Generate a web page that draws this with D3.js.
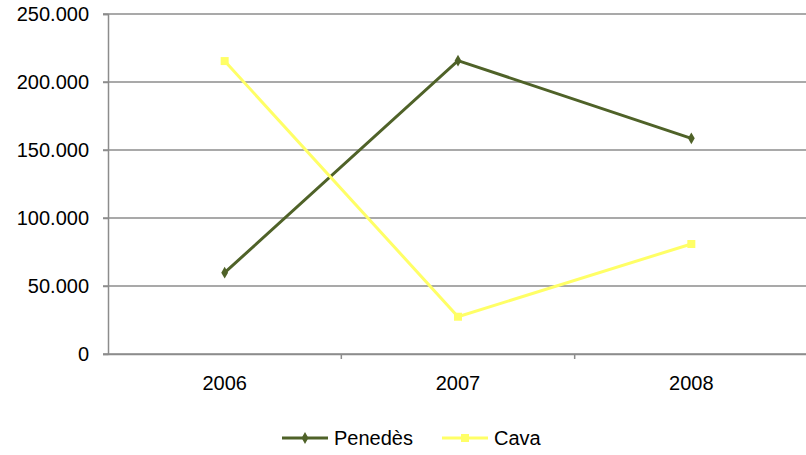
<!DOCTYPE html>
<html>
<head>
<meta charset="utf-8">
<script src="https://cdn.jsdelivr.net/npm/d3@7"></script>
<style>
  body { margin: 0; background: #fff; }
  svg { display: block; font-family: "Liberation Sans", Arial, Helvetica, sans-serif; }
</style>
</head>
<body>
<svg id="chart" width="806" height="455"></svg>
<script>
// Annual figures per denomination
const years = ["2006", "2007", "2008"];
const penedes = [59800, 215700, 158600];
const cava = [215400, 27400, 80900];
const yTicks = [0, 50000, 100000, 150000, 200000, 250000];
const seriesNames = ["Penedès", "Cava"];
const seriesColors = ["#4f6228", "#ffff66"];

const svg = d3.select("#chart");
const margin = { left: 108, right: 0, top: 14, bottom: 101 };
const width = 806, height = 455;

const x = d3.scaleBand().domain(years).range([margin.left, 808]);
const y = d3.scaleLinear().domain([0, 250000]).range([354, 14]);

const fmt = v => d3.format(",")(v).replace(/,/g, ".");

// Horizontal gridlines
svg.append("g")
  .selectAll("line")
  .data(yTicks)
  .join("line")
  .attr("x1", margin.left - 5)
  .attr("x2", width)
  .attr("y1", d => y(d))
  .attr("y2", d => y(d))
  .attr("stroke", "#8c8c8c")
  .attr("stroke-width", 1.5);

// Y axis
const yAxis = svg.append("g")
  .attr("transform", `translate(${margin.left},0)`)
  .call(d3.axisLeft(y).tickValues(yTicks).tickFormat(fmt).tickSize(5).tickPadding(14));
yAxis.select(".domain").attr("stroke", "#8c8c8c").attr("stroke-width", 1.5);
yAxis.selectAll(".tick line").attr("stroke", "#8c8c8c").attr("stroke-width", 1.5);
yAxis.selectAll("text").attr("font-size", 20).attr("fill", "#000").attr("font-family", "Liberation Sans, Arial, sans-serif");

// X axis with ticks on category boundaries
const xAxis = svg.append("g")
  .attr("transform", `translate(0,${y(0)})`)
  .call(d3.axisBottom(x).tickSize(0).tickPadding(22));
xAxis.select(".domain").attr("stroke", "#8c8c8c").attr("stroke-width", 1.5);
xAxis.selectAll("text").attr("font-size", 20).attr("fill", "#000").attr("font-family", "Liberation Sans, Arial, sans-serif");
xAxis.selectAll(".boundary")
  .data(years.slice(1).concat(["end"]))
  .join("line")
  .attr("class", "boundary")
  .attr("x1", (d, i) => x(years[0]) + x.bandwidth() * (i + 1))
  .attr("x2", (d, i) => x(years[0]) + x.bandwidth() * (i + 1))
  .attr("y1", 0).attr("y2", 5)
  .attr("stroke", "#8c8c8c").attr("stroke-width", 1.5);

const cx = d => x(d) + x.bandwidth() / 2;
const line = d3.line().x(d => cx(d.year)).y(d => y(d.value));

const allSeries = [penedes, cava].map((vals, i) => ({
  name: seriesNames[i],
  color: seriesColors[i],
  points: years.map((yr, j) => ({ year: yr, value: vals[j] }))
}));

const diamond = d3.symbol().type(d3.symbolDiamond).size(40);
const square = d3.symbol().type(d3.symbolSquare).size(64);

allSeries.forEach((s, i) => {
  svg.append("path")
    .datum(s.points)
    .attr("d", line)
    .attr("fill", "none")
    .attr("stroke", s.color)
    .attr("stroke-width", 3);
  svg.append("g").selectAll("path")
    .data(s.points)
    .join("path")
    .attr("transform", d => `translate(${cx(d.year)},${y(d.value)})`)
    .attr("d", i === 0 ? diamond : square)
    .attr("fill", s.color);
});

// Legend
const legendY = 438;
const legendItems = [
  { x: 282, textX: 334 },
  { x: 442, textX: 494 }
];
allSeries.forEach((s, i) => {
  const g = svg.append("g");
  const lx = legendItems[i].x;
  g.append("line")
    .attr("x1", lx).attr("x2", lx + 46)
    .attr("y1", legendY).attr("y2", legendY)
    .attr("stroke", s.color).attr("stroke-width", 3);
  g.append("path")
    .attr("transform", `translate(${lx + 23},${legendY})`)
    .attr("d", i === 0 ? diamond : square)
    .attr("fill", s.color);
  g.append("text")
    .attr("x", legendItems[i].textX)
    .attr("y", legendY + 7)
    .attr("font-size", 20)
    .attr("fill", "#000")
    .text(s.name);
});
</script>
</body>
</html>
